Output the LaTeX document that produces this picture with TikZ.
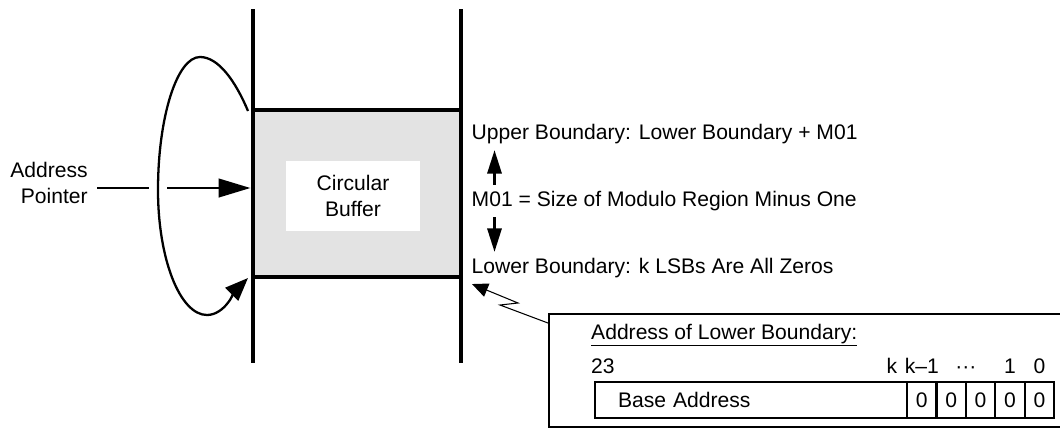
\documentclass[tikz,border=0pt]{standalone}
\usepackage{fontspec}
\setmainfont{Liberation Sans}
\usetikzlibrary{arrows.meta}

\begin{document}
\begin{tikzpicture}[scale=1.0,
  font=\fontsize{12}{14.8}\selectfont,
  rail/.style={line width=1.8pt},
  ptr/.style={line width=1.6pt,-{Triangle[length=0.64cm,width=0.37cm]}},
  wrap/.style={line width=1.3pt,-{Triangle[length=0.46cm,width=0.36cm]},
    preaction={draw=white,line width=10pt,-}},
  span/.style={line width=1.7pt,-{Triangle[length=0.47cm,width=0.28cm]}},
  bolt/.style={line width=0.6pt,-{Triangle[length=0.32cm,width=0.28cm]}},
  cell/.style={draw,line width=1.2pt,minimum width=0.588cm,minimum height=0.72cm,inner sep=0pt}]
\useasboundingbox (0,0) rectangle (21.2,8.56);
\clip (0,0) rectangle (21.2,8.56);

% the pointer goes down first, so the white halo of the loop can cut its gap
\coordinate (bufin) at (5.01,4.80);
\node[align=right,anchor=east,inner xsep=0.18cm] (ptrlabel) at (1.94,4.90) {Address\\Pointer};
\draw[ptr] (ptrlabel.east |- bufin) -- (bufin);
\coordinate (wraptop) at (4.96,6.34);
\coordinate (wrapbot) at (4.96,3.00);
% a tall lopsided ellipse: peak, far left, bottom, back in with the arrow
\draw[wrap] (wraptop) .. controls (4.70,6.96) and (4.36,7.42) .. (4.00,7.42)
  .. controls (3.54,7.42) and (3.16,6.22) .. (3.16,4.76)
  .. controls (3.16,3.38) and (3.60,2.26) .. (4.14,2.26)
  .. controls (4.50,2.26) and (4.72,2.76) .. (wrapbot);

% buffer and rails after the loop: they repaint what its halo took away
\fill[black!11] (5.06,3.02) rectangle (9.22,6.36);
\draw[rail] (5.06,8.38) -- (5.06,1.30);
\draw[rail] (9.22,8.38) -- (9.22,1.30);
\draw[rail] (5.06,6.36) -- (9.22,6.36);
\draw[rail] (5.06,3.02) -- (9.22,3.02);
\node[fill=white,minimum width=2.68cm,minimum height=1.40cm,align=center] (cbuf) at (7.06,4.64) {Circular\\Buffer};

\node[anchor=west] (upper) at (9.31,5.88) {Upper Boundary: Lower Boundary + M01};
\node[anchor=west] (mone) at (9.31,4.54) {M01 = Size of Modulo Region Minus One};
\node[anchor=west] (lower) at (9.31,3.20) {Lower Boundary: k LSBs Are All Zeros};
\draw[span] ([xshift=0.58cm]mone.north west) -- ([xshift=0.58cm]upper.south west);
\draw[span] ([xshift=0.58cm]mone.south west) -- ([xshift=0.58cm]lower.north west);

% the box runs off the right edge of the page, as in the original
\node[draw,line width=1.2pt,anchor=north west,minimum width=10.6cm,minimum height=2.26cm] (lbbox) at (10.96,2.30) {};
\draw[bolt] ([yshift=-0.2cm]lbbox.north west) -- ++(-0.96,0.36) -- ++(0.36,0.04)
  -- ([xshift=0.13cm]lower.south west);

\node[anchor=base west] (lbtitle) at (11.70,1.78) {\underline{Address of Lower Boundary:}};
\node[cell,anchor=north west,minimum width=6.24cm,text width=5.32cm,inner xsep=0.46cm,align=left] (baseaddr) at (11.88,0.94) {Base Address};
\foreach \i in {0,...,4}
  \node[cell,anchor=north west] (z\i) at ({18.12+0.588*\i},0.94) {0};
\node[anchor=base west] (b23) at (11.70,1.10) {23};
\node[anchor=base] (bk) at ([xshift=-0.28cm]z0.north west |- b23.base) {k};
\node[anchor=base] (bkm1) at (z0.north |- b23.base) {k–1};
\node[anchor=base] (bdots) at ([xshift=0.02cm]z2.north west |- b23.base) {···};
\node[anchor=base] (bone) at (z3.north |- b23.base) {1};
\node[anchor=base] (bzero) at (z4.north |- b23.base) {0};
\end{tikzpicture}
\end{document}
